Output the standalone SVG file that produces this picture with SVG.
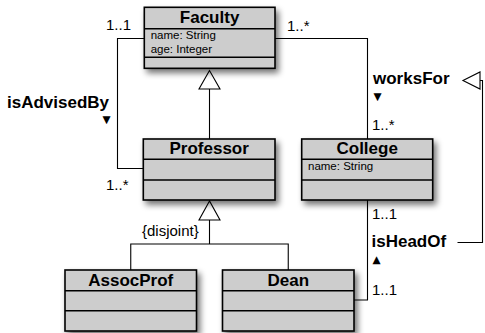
<svg xmlns="http://www.w3.org/2000/svg" width="485" height="333" viewBox="0 0 485 333">
<style>
text{font-family:"Liberation Sans",Arial,Helvetica,sans-serif;fill:#000}
.box{fill:#cdcdcd;stroke:#000;stroke-width:1.6}
.div{stroke:#000;stroke-width:1.4;fill:none}
.title{font-size:17px;font-weight:bold;text-anchor:middle}
.attr{font-size:11.5px}
.mult{font-size:15px}
.lbl{font-size:17px;font-weight:bold}
.arr{font-family:"DejaVu Sans",sans-serif;font-size:10.5px}
.conn{stroke:#000;stroke-width:1.1;fill:none}
.gen{fill:#fff;stroke:#000;stroke-width:1.1}
</style>
<defs>
<filter id="sh" x="-20%" y="-20%" width="150%" height="160%">
<feGaussianBlur in="SourceAlpha" stdDeviation="3"/>
<feOffset dx="3" dy="4" result="b"/>
<feComponentTransfer><feFuncA type="linear" slope="0.55"/></feComponentTransfer>
<feMerge><feMergeNode/><feMergeNode in="SourceGraphic"/></feMerge>
</filter>
</defs>

<g id="connectors">
<path class="conn" d="M144.3,38.5 H117.5 V168.5 H143.3"/>
<path class="conn" d="M275,38.5 H367.5 V139"/>
<path class="conn" d="M209.5,139 V89"/>
<polygon class="gen" points="209.5,70.5 199,89 220,89"/>
<path class="conn" d="M209.5,220 V244 M130.75,270 V244 H288.25 V270"/>
<polygon class="gen" points="209.5,201 199,220 220,220"/>
<path class="conn" d="M367.5,200 V300 H354"/>
<path class="conn" d="M480,80.5 H482.5 V242.5 H457.5"/>
<polygon class="gen" points="463,80.5 480,72 480,89"/>
<text class="mult" x="106" y="30">1..1</text>
<text class="mult" x="287" y="30.5">1..*</text>
<text class="lbl" x="7" y="108">isAdvisedBy</text>
<text class="arr" x="102.5" y="122.5">▼</text>
<text class="mult" x="106" y="190">1..*</text>
<text class="lbl" x="373" y="83.5">worksFor</text>
<text class="arr" x="373.5" y="99.5">▼</text>
<text class="mult" x="372" y="129.5">1..*</text>
<text class="mult" x="372" y="219">1..1</text>
<text class="lbl" x="371.5" y="246.5">isHeadOf</text>
<text class="arr" x="372.5" y="262.5">▲</text>
<text class="mult" x="372" y="295">1..1</text>
<text class="mult" x="142" y="235.5">{disjoint}</text>
</g>

<g id="Faculty">
<rect class="box" x="144.3" y="7.3" width="130.7" height="61" filter="url(#sh)"/>
<path class="div" d="M144.3,28.7 H275 M144.3,57.3 H275"/>
<text class="title" x="209.6" y="23">Faculty</text>
<text class="attr" x="150.7" y="38.7">name: String</text>
<text class="attr" x="150.7" y="53.3">age: Integer</text>
</g>

<g id="Professor">
<rect class="box" x="143.3" y="139" width="131.7" height="61" filter="url(#sh)"/>
<path class="div" d="M143.3,159.3 H275 M143.3,180 H275"/>
<text class="title" x="209.2" y="154">Professor</text>
</g>

<g id="College">
<rect class="box" x="301.7" y="139" width="131" height="61" filter="url(#sh)"/>
<path class="div" d="M301.7,159.3 H432.7 M301.7,180 H432.7"/>
<text class="title" x="367.2" y="154">College</text>
<text class="attr" x="308" y="169.5">name: String</text>
</g>

<g id="AssocProf">
<rect class="box" x="65" y="270" width="131.5" height="61" filter="url(#sh)"/>
<path class="div" d="M65,290.7 H196.5 M65,310.7 H196.5"/>
<text class="title" x="130.75" y="285.5">AssocProf</text>
</g>

<g id="Dean">
<rect class="box" x="222.5" y="270" width="131.5" height="61" filter="url(#sh)"/>
<path class="div" d="M222.5,290.7 H354 M222.5,310.7 H354"/>
<text class="title" x="288.25" y="285.5">Dean</text>
</g>
</svg>
